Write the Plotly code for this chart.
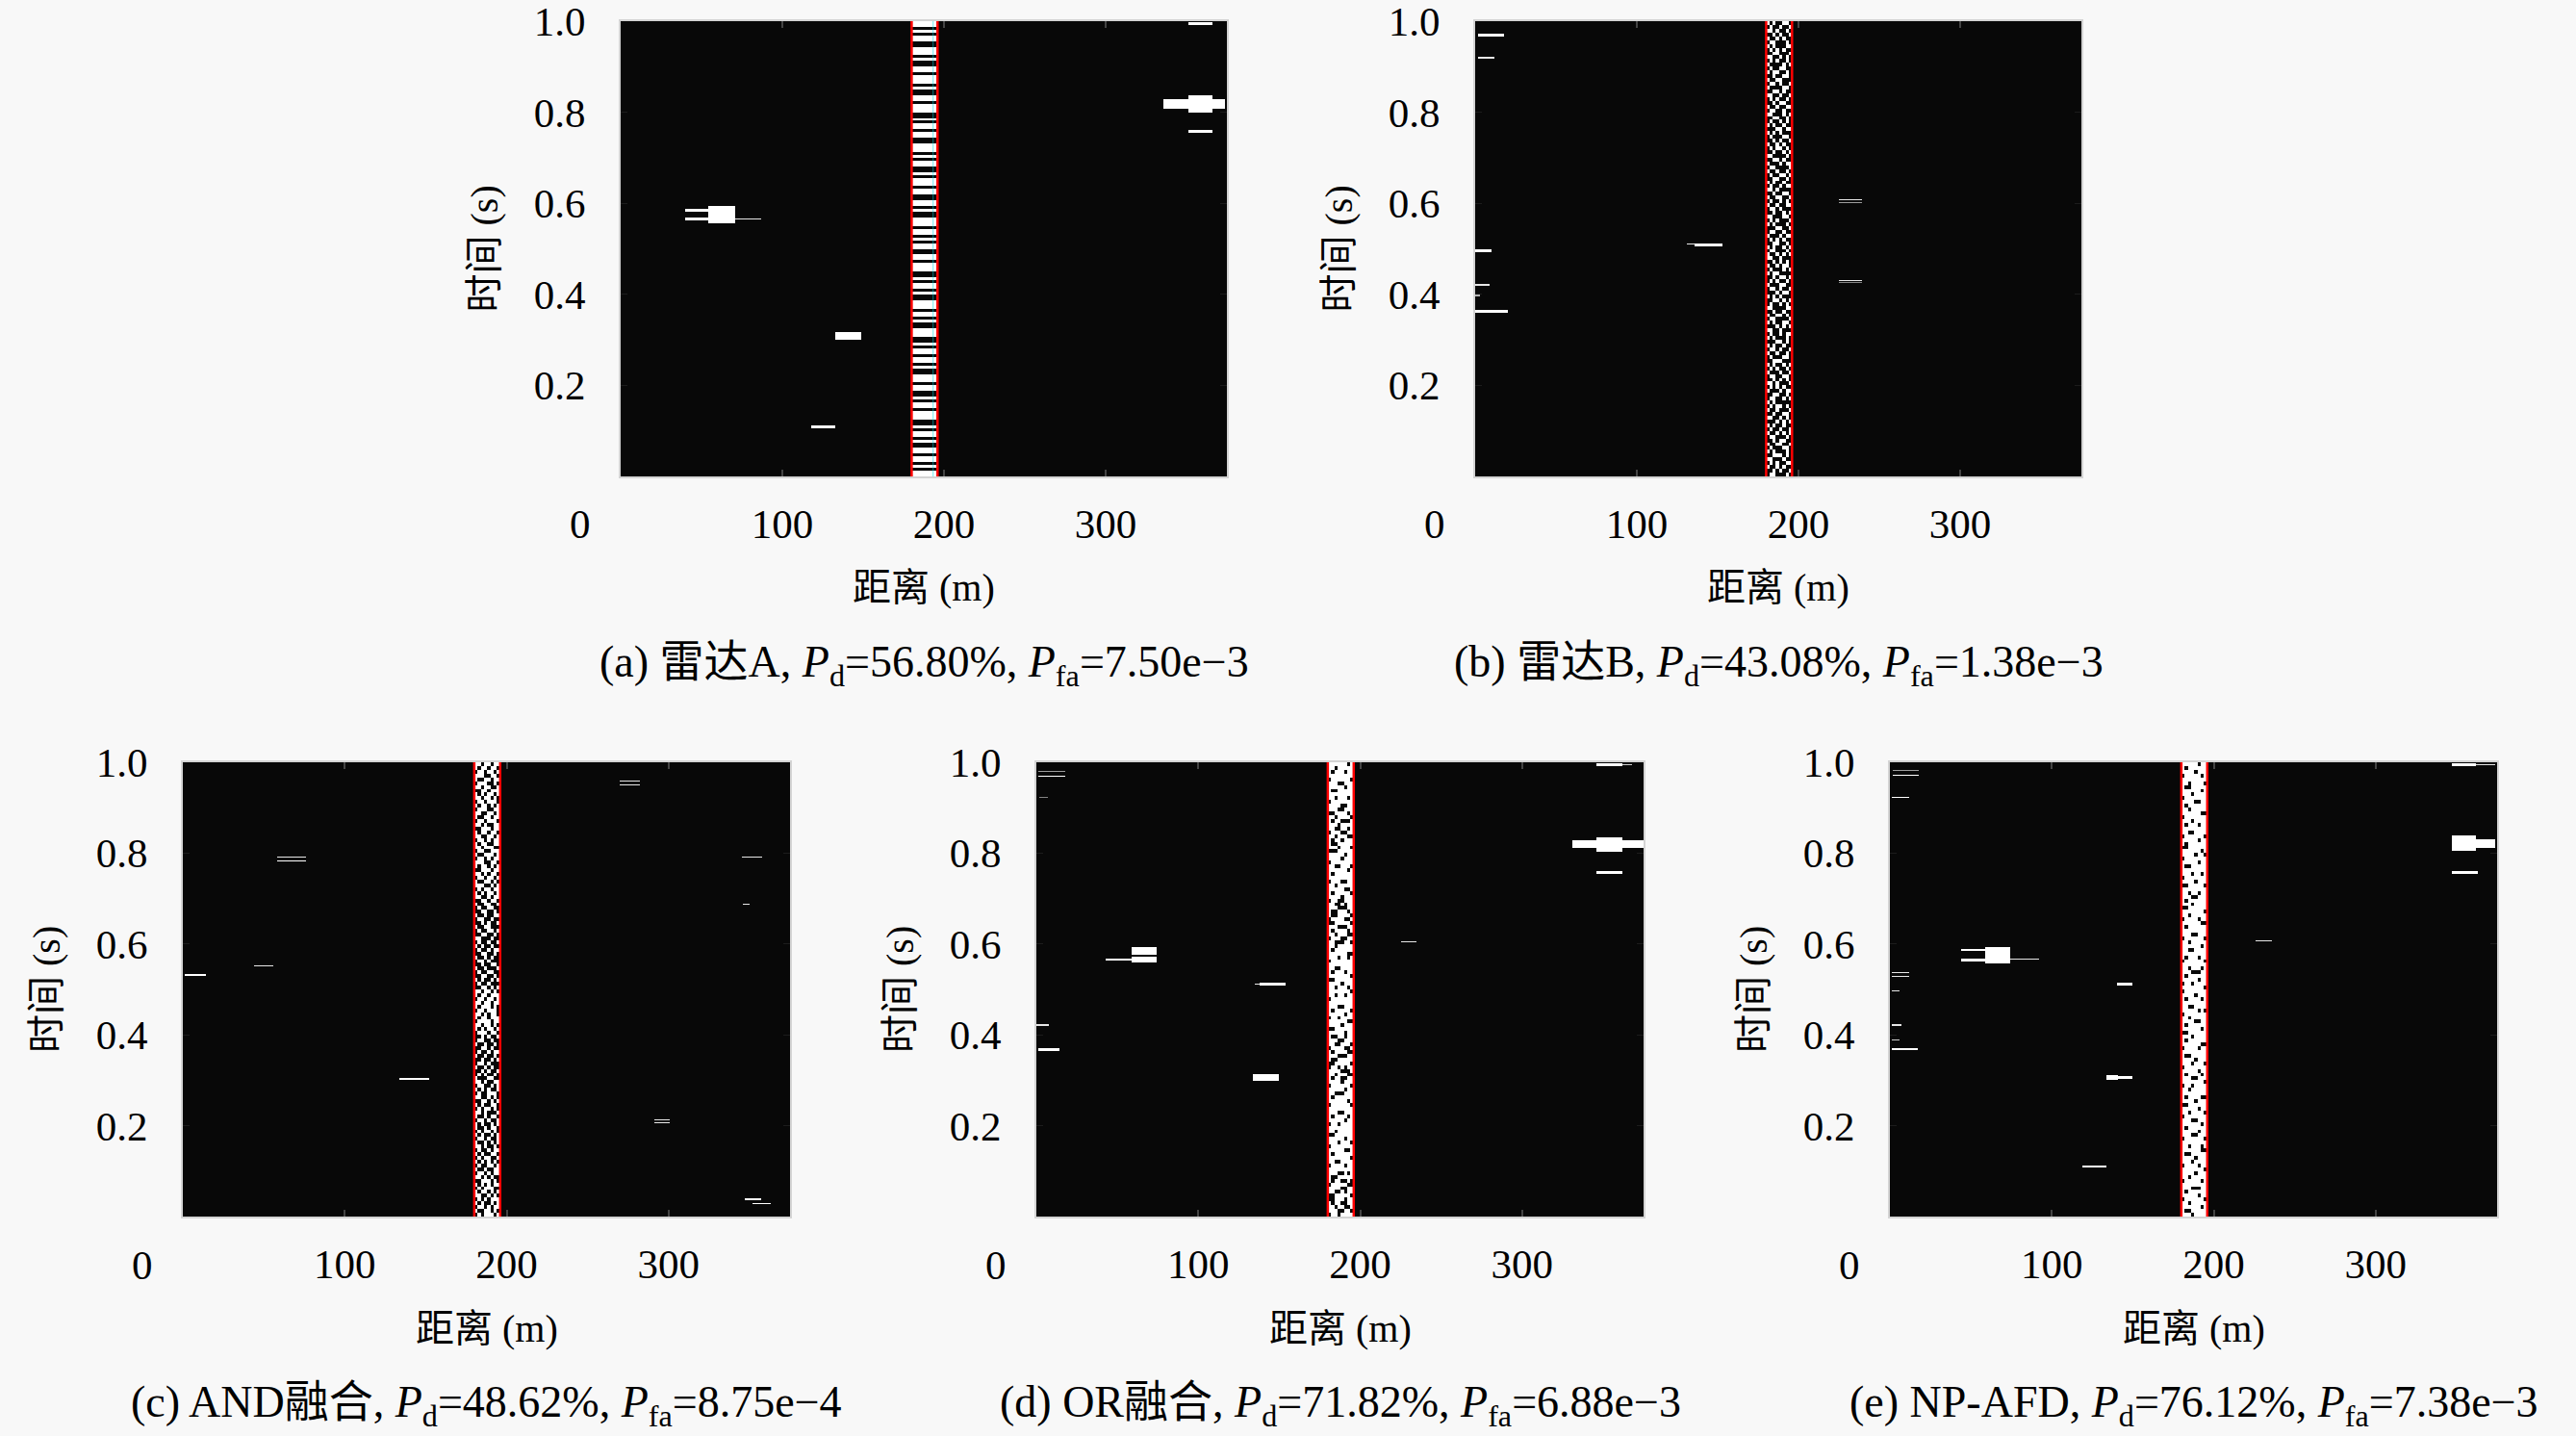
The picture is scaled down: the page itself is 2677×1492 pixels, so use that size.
import numpy as np
import plotly.graph_objects as go

# grid of the detection maps: 1 m range bins, 480 slow-time rows over 1 s
N_RANGE = 375
N_TIME = 480
X_TICKS = [100, 200, 300]
Y_TICKS = [0.2, 0.4, 0.6, 0.8, 1.0]
Y_TICKTEXT = ['0.2', '0.4', '0.6', '0.8', '1.0']

# target strip (m) and the true target borders drawn in red
BAND_START = 180
BAND_END = 196
TRUTH_LINES = [180, 196]
AUX_LINE_A = 193.3

PANEL_TAGS = ['(a)', '(b)', '(c)', '(d)', '(e)']
PANEL_NAMES = ['雷达A', '雷达B', 'AND融合', 'OR融合', 'NP-AFD']
PANEL_PD = ['56.80%', '43.08%', '48.62%', '71.82%', '76.12%']
PANEL_PFA = ['7.50e−3', '1.38e−3', '8.75e−4', '6.88e−3', '7.38e−3']

# detections outside the strip: (range from, range to, time centre, time width, level)
MARKS_A = [
    (351, 366, 0.995, 0.006, 1.0), (336, 374, 0.819, 0.022, 1.0), (351, 366, 0.819, 0.038, 1.0),
    (351, 366, 0.758, 0.006, 1.0), (54.5, 70.6, 0.5755, 0.037, 1.0), (40, 54.5, 0.584, 0.006, 1.0),
    (40, 54.5, 0.565, 0.007, 1.0), (70.6, 86.7, 0.565, 0.002, 0.9), (133, 149, 0.3075, 0.017, 1.0),
    (117.6, 133.3, 0.110, 0.006, 1.0),
]
MARKS_B = [
    (1.7, 17.6, 0.970, 0.006, 1.0), (1.7, 11.5, 0.919, 0.003, 0.9), (0, 10, 0.495, 0.005, 1.0),
    (0.5, 9, 0.420, 0.004, 0.9), (0, 3, 0.397, 0.004, 0.7), (0.5, 20, 0.363, 0.007, 1.0),
    (136, 153, 0.510, 0.007, 1.0), (131, 136, 0.511, 0.003, 0.9), (225, 239, 0.607, 0.002, 0.9),
    (225, 239, 0.600, 0.002, 0.6), (225, 239, 0.431, 0.002, 0.9), (225, 239, 0.426, 0.002, 0.5),
]
MARKS_C = [
    (270, 282.5, 0.960, 0.002, 0.9), (270, 282.5, 0.951, 0.002, 0.9), (58.5, 75.7, 0.791, 0.002, 0.9),
    (58.5, 75.7, 0.782, 0.003, 1.0), (345, 358, 0.790, 0.002, 0.9), (346, 350, 0.688, 0.003, 0.9),
    (44.4, 55.5, 0.552, 0.002, 0.9), (0.7, 13.6, 0.531, 0.005, 1.0), (134.5, 151.7, 0.302, 0.003, 1.0),
    (291, 301, 0.214, 0.002, 0.9), (291, 301, 0.208, 0.002, 0.9), (347, 357, 0.038, 0.004, 1.0),
    (352, 363, 0.028, 0.003, 1.0),
]
MARKS_D = [
    (1, 17.6, 0.970, 0.003, 1.0), (1, 17.6, 0.981, 0.002, 0.6), (1.7, 6.6, 0.922, 0.003, 0.5),
    (345.7, 361.6, 0.994, 0.006, 1.0), (361.6, 368, 0.994, 0.002, 0.8), (331, 375, 0.8195, 0.019, 1.0),
    (345.7, 361.6, 0.8195, 0.033, 1.0), (345.7, 361.6, 0.757, 0.006, 1.0), (58.8, 74.4, 0.586, 0.016, 1.0),
    (58.8, 74.4, 0.566, 0.014, 1.0), (43.3, 58.8, 0.567, 0.004, 1.0), (138, 153.5, 0.511, 0.006, 1.0),
    (134.6, 138, 0.511, 0.002, 0.9), (134, 150, 0.306, 0.018, 1.0), (225, 235, 0.606, 0.002, 0.9),
    (0.5, 7.8, 0.421, 0.004, 0.9), (1, 14, 0.368, 0.005, 1.0),
]
MARKS_E = [
    (1.5, 17.9, 0.972, 0.003, 1.0), (1.5, 17.9, 0.982, 0.002, 0.6), (0.7, 11.7, 0.922, 0.003, 1.0),
    (347, 361.5, 0.994, 0.006, 1.0), (361.5, 373.7, 0.995, 0.002, 0.9), (347, 361.5, 0.8215, 0.035, 1.0),
    (361.5, 374.3, 0.821, 0.020, 1.0), (347, 362.8, 0.757, 0.006, 1.0), (59.4, 74.1, 0.5755, 0.037, 1.0),
    (43.5, 59.4, 0.587, 0.004, 1.0), (43.5, 59.4, 0.566, 0.005, 1.0), (74.1, 92.5, 0.568, 0.002, 0.9),
    (0.7, 11.7, 0.536, 0.002, 0.9), (0.7, 11.7, 0.528, 0.002, 0.9), (0.7, 6, 0.497, 0.003, 0.9),
    (0.7, 7, 0.421, 0.003, 0.9), (0.7, 6, 0.389, 0.003, 0.8), (0.7, 16.6, 0.368, 0.004, 1.0),
    (140.4, 150, 0.511, 0.006, 1.0), (134, 141, 0.307, 0.012, 1.0), (141, 150, 0.305, 0.006, 1.0),
    (118.9, 134.5, 0.111, 0.005, 1.0), (225.8, 235.6, 0.607, 0.002, 0.9), (225.8, 240, 0.436, 0.002, 0.9),
]

# detections inside the strip, one token per row, listed from t=1 s down to t=0
BAND_A = """
1101011001110100110111010011011100101101
1001110101100101110110011010011101101011
0011011100101101001110110100111001011011
0100111011001011011100101101001101101011
"""
BAND_B = """
10100110 01001001 11010010 00101001 10010100 01100010 10100011 01010100 00110001 11001010 01010010 10000101
01001100 10110010 00100110 10011000 01101001 10000110 00110100 11001001 01010010 00101100 10010011 01100100
11000101 00110010 01001010 10100100 00011011 10101000 01000110 00101001 10010100 01011010 00100101 11000010
00110100 10001011 01100001 10010010 01001101 00110010 10100100 01001011 11010000 00100110 10011001 01001010
10010011 01101000 00100101 11000110 01010001 10100010 00011001 01100100 10001011 01010100 00110010 10100101
01100010 10010101 11001000 00101010 10010110 01000101 10110000 00101101 01010010 10001100 01101001 00010110
10101000 00110101 01001010 11000011 00100100 10011010 01100001 10100110 00010101 11001000 01001011 10100010
00011010 10100100 01101001 10010010 01000110 00111000 10100101 01010010 10001001 01100110 00101010 11010001
01010100 10001011 00110010 01100101 10100000 01011010 10010001 00100110 11001010 00010101 10100100 01001001
10010101 01100010 00101100 10011001 01000110 10100010 00111010 11000100 01010011 10010100 00101001 01100010
"""
BAND_C = """
11011011 10110110 01101101 11100110 10011011 01110010 11011001 00110111 10101101 11011010 01101110 10110101
01110011 11001101 10011011 01101110 11010011 00111011 10110110 11001101 01101011 10110011 11011100 01100111
10011101 01101011 11100110 10110101 00111011 11010110 01101101 10011010 11100101 01011011 10101101 11001011
00110110 10011001 01001100 00110010 10010011 01100100 00101001 10011000 01001101 00110010 11000100 01001001
10100100 01001011 00110010 10010100 01101000 00100110 10010001 01001100 00110010 10100101 01001000 00110101
11011010 10110111 01101101 11011011 10111010 01101110 11010110 10110111 01111011 11011010 10101101 01110110
00101001 01100100 10010010 00110100 01001011 10010010 00100101 01101000 10010100 00101001 01010010 10001100
11010011 01100101 10101001 01001110 11001010 00110101 10100110 01011010 11010001 10010110 01101001 10100101
10010110 01011010 10100101 01101001 10010101 11010010 01001011 10100110 01011001 10101010 01001101 10010011
01101011 11010100 00111010 10101011 01011100 10110101 11001010 01010111 10100101 01101011 10011010 01011101
"""
BAND_D = """
11111101 11011111 10111011 11111111 01111110 11100111 11111011 10011111 11111111 11011101 01111111 11110011
11100111 00111101 11011110 10110001 11101111 11001101 01110011 11011100 10110111 10011111 11101110 00011111
11111011 11110111 01111111 11001110 11111101 10111111 11111111 01110011 11011111 11111001 10111110 11110111
01100111 11001011 11100011 10011101 10011110 01111001 00111110 11100011 10111101 11011100 01110011 11000110
11011111 10111111 11111100 11101101 01111111 11111111 11001111 10111011 11111110 00111111 11110111 11011101
11111110 11011011 01111111 11111111 11100111 10111110 11111011 01101111 11111100 11110111 00111111 11111011
10011011 11100111 11001110 01111001 10111100 11100011 10011111 00111110 01101011 11110001 11011100 10110011
11110111 01111110 11111011 11000111 10111111 11111101 01111110 11111111 11100111 10111101 11111011 01101111
11111111 11011111 00111111 11111011 11101110 01111111 11111001 10111111 11111110 11001111 01111011 11111111
11100101 10011111 10110010 01111100 11110011 11001011 00111110 00111011 10110011 11011001 11100110 01101111
"""
BAND_E = """
11111011 10111111 11110111 01111101 11111111 11011110 10011111 11111101 11101111 01111111 11110011 10111111
11011111 11111100 01111111 11101111 10111011 11111111 11001111 01111110 11111011 10111111 00111111 11111101
11110110 01111111 11111011 10011111 11111111 11101101 01111111 11110111 00111110 11111111 11011011 11100111
10111111 11101111 00111111 11111110 11011111 01111011 11111100 10111111 11111111 11100111 01111110 11011111
11111101 11001111 11111111 10111011 01111110 11111111 11011101 11100011 10111111 11111011 01101111 11111110
01111111 11110111 10111101 11111111 11001111 11111010 01111111 11011111 11110011 10111111 11111101 00111111
11101111 10111111 11111100 01111011 11111111 10011111 11110111 11101110 01111111 11111011 10111101 11100111
11111110 01101111 11011111 11111111 10111100 11110111 00111111 11111011 11011110 01111111 11100111 11111101
10111111 11111011 11100111 01111110 11111111 11011101 11111100 10011111 11110111 11101111 01111011 11111110
11110111 11011111 01111101 11111111 11100011 10111111 11111011 01111110 11011111 11111101 10011111 11101111
"""

PANEL_MARKS = [MARKS_A, MARKS_B, MARKS_C, MARKS_D, MARKS_E]
PANEL_BANDS = [BAND_A, BAND_B, BAND_C, BAND_D, BAND_E]

#PIXEL BOXES OF THE FIVE MAPS (left, right, top, bottom)
W, H = 2677, 1492
BOXES = [
    (645, 1275, 22, 495), (1533, 2163, 22, 495),
    (190, 821, 792, 1264), (1077, 1708, 792, 1264), (1964, 2595, 792, 1264),
]

FONT = 'Liberation Serif, Noto Sans CJK SC, serif'
FS_TICK = 43
FS_TITLE = 40
FS_CAPTION = 46


def band_rows(band):
	tokens = band.split()
	if len(tokens) == 4 and len(tokens[0]) > 8:
		#1-D stripe pattern: each character is a full-width row
		tokens = [c for c in ''.join(tokens)]
	return tokens


def build_map(marks, band):
	z = np.zeros((N_TIME, N_RANGE), dtype=np.uint8)
	rows = band_rows(band)
	nb = len(rows)
	ncell = BAND_END - BAND_START
	for i in range(N_TIME):
		row = rows[nb - 1 - int(i * nb / N_TIME)]
		w = len(row)
		for j in range(ncell):
			if row[int(j * w / ncell)] == '1':
				z[i, BAND_START + j] = 255
	for x0, x1, tc, tw, lvl in marks:
		c0 = int(round(x0))
		c1 = max(c0 + 1, int(round(x1)))
		r0 = int(round((tc - tw / 2) * N_TIME))
		r1 = max(r0 + 1, int(round((tc + tw / 2) * N_TIME)))
		r0, r1 = max(r0, 0), min(r1, N_TIME)
		c0, c1 = max(c0, 0), min(c1, N_RANGE)
		z[r0:r1, c0:c1] = np.maximum(z[r0:r1, c0:c1], int(lvl * 255))
	return z


range_centers = np.arange(N_RANGE) + 0.5
time_centers = (np.arange(N_TIME) + 0.5) / N_TIME

fig = go.Figure()
annotations = []
layout = {}

for k in range(5):
	n = '' if k == 0 else str(k + 1)
	xa, ya = 'x' + n, 'y' + n
	z = build_map(PANEL_MARKS[k], PANEL_BANDS[k])

	fig.add_trace(go.Heatmap(
		x=range_centers, y=time_centers, z=z,
		colorscale=[[0, '#080808'], [1, '#ffffff']], zmin=0, zmax=255,
		zsmooth=False, showscale=False, hoverinfo='skip',
		xaxis=xa, yaxis=ya,
	))
	if k == 0:
		fig.add_trace(go.Scatter(
			x=[AUX_LINE_A, AUX_LINE_A], y=[0, 1], mode='lines',
			line=dict(color='rgba(0,220,230,0.55)', width=1),
			showlegend=False, hoverinfo='skip', xaxis=xa, yaxis=ya,
		))
	for xl in TRUTH_LINES:
		fig.add_trace(go.Scatter(
			x=[xl, xl], y=[0, 1], mode='lines',
			line=dict(color='#ff0000', width=2.5),
			showlegend=False, hoverinfo='skip', xaxis=xa, yaxis=ya,
		))

	left, right, top, bottom = BOXES[k]
	pw, ph = right - left, bottom - top
	layout['xaxis' + n] = dict(
		domain=[left / W, right / W], anchor=ya, range=[0, N_RANGE], automargin=False,
		tickvals=X_TICKS, ticks='inside', ticklen=7, tickwidth=2, tickcolor='#444444',
		showline=True, linecolor='#d4d4d4', linewidth=2, mirror='ticks',
		showgrid=False, zeroline=False, ticklabelstandoff=10, ticklabeloverflow='allow',
		tickfont=dict(family=FONT, size=FS_TICK, color='black'),
	)
	layout['yaxis' + n] = dict(
		domain=[1 - bottom / H, 1 - top / H], anchor=xa, range=[0, 1], automargin=False,
		tickvals=Y_TICKS, ticktext=Y_TICKTEXT, ticks='inside', ticklen=7, tickcolor='#1c1c1c',
		showline=True, linecolor='#d4d4d4', linewidth=2, mirror='ticks',
		showgrid=False, zeroline=False, ticklabelstandoff=26, ticklabeloverflow='allow',
		tickfont=dict(family=FONT, size=FS_TICK, color='black'),
	)

	ref = dict(xref=xa + ' domain', yref=ya + ' domain', showarrow=False)
	#the "0" range label sits left of the map, as in the original figure
	annotations.append(dict(ref, text='0', x=-42 / pw, y=-50 / ph, xanchor='center', yanchor='middle',
		font=dict(family=FONT, size=FS_TICK, color='black')))
	annotations.append(dict(ref, text='距离 (m)', x=0.5, y=-116 / ph, xanchor='center', yanchor='middle',
		font=dict(family=FONT, size=FS_TITLE, color='black')))
	annotations.append(dict(ref, text='时间 (s)', x=-142 / pw, y=0.5, xanchor='center', yanchor='middle',
		textangle=-90, font=dict(family=FONT, size=FS_TITLE, color='black')))
	caption = '{} {}, <i>P</i><sub>d</sub>={}, <i>P</i><sub>fa</sub>={}'.format(
		PANEL_TAGS[k], PANEL_NAMES[k], PANEL_PD[k], PANEL_PFA[k])
	annotations.append(dict(ref, text=caption, x=0.5, y=-196 / ph, xanchor='center', yanchor='middle',
		font=dict(family=FONT, size=FS_CAPTION, color='black')))

fig.update_layout(
	width=W, height=H, autosize=False,
	margin=dict(l=0, r=0, t=0, b=0),
	paper_bgcolor='#f8f8f8', plot_bgcolor='#080808',
	showlegend=False, annotations=annotations,
	**layout
)

fig.write_html("out.html", config={'displayModeBar': False},
	post_script="document.body.style.margin='0';")
